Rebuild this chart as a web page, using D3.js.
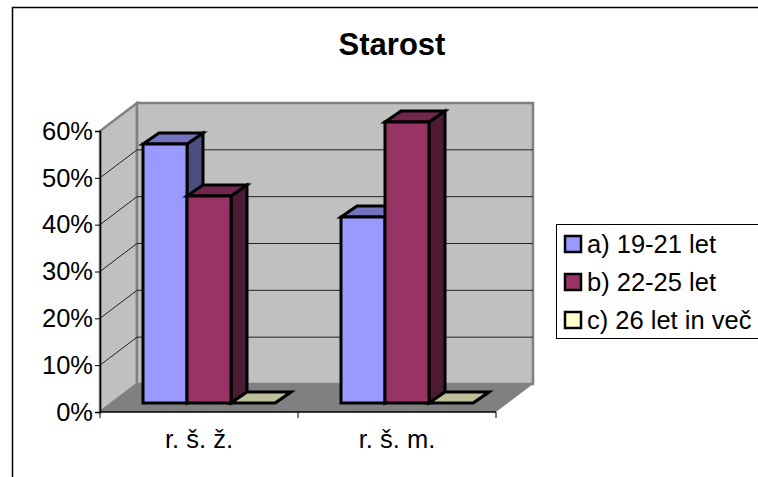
<!DOCTYPE html>
<html>
<head>
<meta charset="utf-8">
<script src="https://cdn.jsdelivr.net/npm/d3@7/dist/d3.min.js"></script>
<style>
html, body { margin: 0; padding: 0; background: #fff; overflow: hidden; }
text { font-family: "Liberation Sans", Arial, sans-serif; fill: #000; }
</style>
</head>
<body>
<svg width="758" height="477"></svg>
<script>
// data
var categories = ['r. š. ž.', 'r. š. m.']
var seriesNames = ['a) 19-21 let', 'b) 22-25 let', 'c) 26 let in več']
var seriesA = [55.3, 39.7]
var seriesB = [44.2, 60]
var seriesC = [0, 0]
var yTicks = [0, 10, 20, 30, 40, 50, 60]
var colors = ['#9999ff', '#993366', '#ffffcc']
var topColors = ['#7373bf', '#73264d', '#bfbf99']
var sideColors = ['#4d4d80', '#4d1a33', '#808066']

var allSeries = [seriesA, seriesB, seriesC]
var svg = d3.select('svg')

// page frame
svg.append('path')
    .attr('d', 'M12.5,477V7.5H758')
    .attr('fill', 'none')
    .attr('stroke', '#000')
    .attr('stroke-width', 1.5)

svg.append('text')
    .text('Starost')
    .attr('x', 392)
    .attr('y', 55)
    .attr('text-anchor', 'middle')
    .attr('font-size', 31)
    .attr('font-weight', 'bold')

// front plane scales, depth goes up and right
var x = d3.scaleBand().domain(categories).range([100, 496])
var y = d3.scaleLinear().domain([0, 60]).range([412, 131])
var depthX = 37
var depthY = -28
var x0 = 100, x1 = 496, y0 = y(0), y1 = y(60)

function poly(points) {
    return 'M' + points.map(function(p) { return p.join(',') }).join('L') + 'Z'
}

// left wall
svg.append('path')
    .attr('d', poly([[x0, y0], [x0 + depthX, y0 + depthY], [x0 + depthX, y1 + depthY], [x0, y1]]))
    .attr('fill', '#c0c0c0')
    .attr('stroke', '#808080')
    .attr('stroke-width', 2.5)
// back wall
svg.append('path')
    .attr('d', poly([[x0 + depthX, y0 + depthY], [x1 + depthX, y0 + depthY], [x1 + depthX, y1 + depthY], [x0 + depthX, y1 + depthY]]))
    .attr('fill', '#c0c0c0')
    .attr('stroke', '#808080')
    .attr('stroke-width', 2.5)
// floor
svg.append('path')
    .attr('d', poly([[x0, y0], [x1, y0], [x1 + depthX, y0 + depthY], [x0 + depthX, y0 + depthY]]))
    .attr('fill', '#808080')

// gridlines on the two walls
var grid = yTicks.filter(function(d) { return d > 0 && d < 60 })
svg.selectAll('.grid')
    .data(grid)
    .enter().append('path')
    .attr('class', 'grid')
    .attr('d', function(d) {
        return 'M' + x0 + ',' + y(d) + 'L' + (x0 + depthX) + ',' + (y(d) + depthY) + 'H' + (x1 + depthX)
    })
    .attr('fill', 'none')
    .attr('stroke', '#222')
    .attr('stroke-width', 1)

// axes
var yAxis = d3.axisLeft(y).tickValues(yTicks).tickSize(5).tickPadding(2)
    .tickFormat(function(d) { return d + '%' })
var gy = svg.append('g').attr('transform', 'translate(' + x0 + ',0)').call(yAxis)
gy.select('.domain').attr('stroke', '#000').attr('stroke-width', 1.5)
gy.selectAll('text').attr('font-size', 25.5).style('font-family', '"Liberation Sans", Arial, sans-serif')

svg.append('path')
    .attr('d', 'M' + x0 + ',' + y0 + 'H' + x1)
    .attr('stroke', '#000')
    .attr('stroke-width', 1.5)
svg.selectAll('.xtick')
    .data(x.domain().concat(['end']))
    .enter().append('line')
    .attr('class', 'xtick')
    .attr('x1', function(d, i) { return x0 + i * x.bandwidth() })
    .attr('x2', function(d, i) { return x0 + i * x.bandwidth() })
    .attr('y1', y0)
    .attr('y2', y0 + 6)
    .attr('stroke', '#000')
svg.selectAll('.xlabel')
    .data(categories)
    .enter().append('text')
    .attr('class', 'xlabel')
    .text(function(d) { return d })
    .attr('x', function(d) { return x(d) + x.bandwidth() / 2 })
    .attr('y', 448)
    .attr('text-anchor', 'middle')
    .attr('font-size', 25.5)

// bars
var barW = 44
var inner = d3.scaleBand().domain(d3.range(seriesNames.length)).range([33, 165])
var offX = 10, offY = -9
var barDX = 16, barDY = -11

categories.forEach(function(cat, c) {
    // back to front is the same row here, so left to right paints right
    allSeries.forEach(function(vals, s) {
        var left = x(cat) + inner(s) + offX
        var right = left + barW
        var bottom = y0 + offY
        var top = y(vals[c]) + offY
        var g = svg.append('g')
            .attr('stroke', '#000')
            .attr('stroke-width', 3)
            .attr('stroke-linejoin', 'miter')
        g.append('path')
            .attr('d', poly([[right, bottom], [right + barDX, bottom + barDY], [right + barDX, top + barDY], [right, top]]))
            .attr('fill', sideColors[s])
        g.append('path')
            .attr('d', poly([[left, top], [right, top], [right + barDX, top + barDY], [left + barDX, top + barDY]]))
            .attr('fill', topColors[s])
        if (vals[c] > 0) {
            g.append('path')
                .attr('d', poly([[left, bottom], [right, bottom], [right, top], [left, top]]))
                .attr('fill', colors[s])
        }
    })
})

// legend
var legend = svg.append('g')
legend.append('rect')
    .attr('x', 556.5)
    .attr('y', 224.5)
    .attr('width', 210)
    .attr('height', 114)
    .attr('fill', '#fff')
    .attr('stroke', '#000')
    .attr('stroke-width', 1)
var rowY = d3.scalePoint().domain(seriesNames).range([244, 320])
var row = legend.selectAll('.row')
    .data(seriesNames)
    .enter().append('g')
    .attr('class', 'row')
    .attr('transform', function(d) { return 'translate(0,' + rowY(d) + ')' })
row.append('rect')
    .attr('x', 565)
    .attr('y', -8)
    .attr('width', 16)
    .attr('height', 16)
    .attr('fill', function(d, i) { return colors[i] })
    .attr('stroke', '#000')
    .attr('stroke-width', 2.5)
row.append('text')
    .text(function(d) { return d })
    .attr('x', 587)
    .attr('y', 9)
    .attr('font-size', 25.5)
</script>
</body>
</html>
